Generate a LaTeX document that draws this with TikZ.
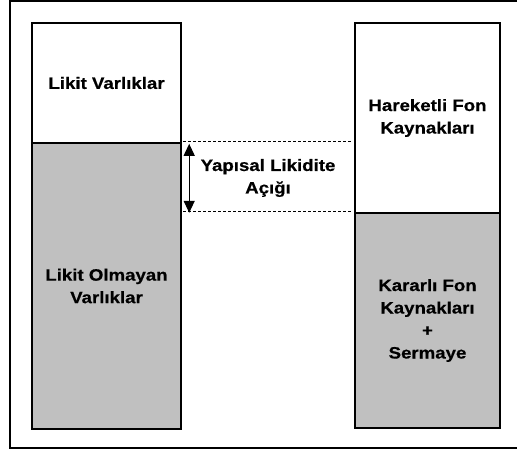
\documentclass[tikz,border=0pt]{standalone}
\usepackage{fontspec}
\setmainfont{Liberation Sans}[FakeStretch=1.13,BoldFeatures={FakeBold=0.5}]
\usetikzlibrary{arrows.meta,calc}
\definecolor{boxgray}{HTML}{C0C0C0}
\begin{document}
\begin{tikzpicture}[x=1pt,y=-1pt,
  block/.style={draw=black,line width=2.4pt,inner sep=0pt,align=center,
    font=\fontsize{16.5}{22.5}\selectfont\bfseries},
  gap/.style={line width=1.2pt,dash pattern=on 3pt off 2pt},
  span/.style={line width=1.2pt,{Triangle[length=12pt,width=11pt]}-{Triangle[length=12pt,width=11pt]}},
  label/.style={align=center,inner sep=0pt,font=\fontsize{16.5}{22.5}\selectfont\bfseries}]
\useasboundingbox (0,0) rectangle (517,450);
% outer frame, open on the right
\draw[line width=2.2pt] (519,1.2) -- (10,1.2) -- (10,448) -- (519,448);
% assets column
\node[block,fill=white,minimum width=149pt,minimum height=120pt] (lt) at (106.5,83) {Likit Varlıklar};
\node[block,fill=boxgray,minimum width=149pt,minimum height=286pt] (lb) at (106.5,286) {Likit Olmayan\\Varlıklar};
% funding column
\node[block,fill=white,minimum width=145pt,minimum height=190pt] (rt) at (427.5,118) {Hareketli Fon\\Kaynakları};
\node[block,fill=boxgray,minimum width=145pt,minimum height=215pt] (rb) at (427.5,320.5) {Kararlı Fon\\Kaynakları\\+\\Sermaye};
% structural liquidity gap
\draw[gap] ([xshift=1.2pt]lb.north east) -- ([xshift=-1.2pt]lb.north east -| rt.west);
\draw[gap] ([xshift=1.2pt]rb.north west -| lb.east) -- ([xshift=-1.2pt]rb.north west);
\coordinate (gtop) at ($(lb.north east)+(7,2)$);
\coordinate (gbot) at (gtop |- rb.north west);
\draw[span] (gtop) -- ([yshift=-1pt]gbot);
\node[label] (gaptext) at (268,178) {Yapısal Likidite\\Açığı};
\end{tikzpicture}
\end{document}
